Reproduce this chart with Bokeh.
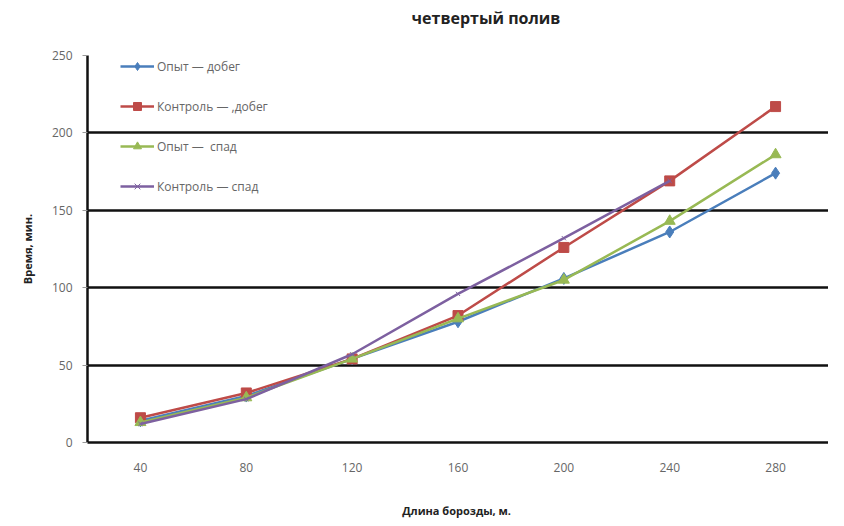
from bokeh.plotting import figure
from bokeh.models import Range1d, FixedTicker, Legend, LegendItem, Div
from bokeh.layouts import column
from bokeh.embed import file_html
from bokeh.resources import INLINE

lengths = ["40", "80", "120", "160", "200", "240", "280"]
opyt_dobeg = [14, 30, 54, 78, 106, 136, 174]
kontrol_dobeg = [16, 32, 54, 82, 126, 169, 217]
opyt_spad = [13, 29, 54, 80, 105, 143, 186]
kontrol_spad_x = ["40", "80", "120", "160", "200", "240"]
kontrol_spad = [12, 28, 57, 96, 132, 169]
y_ticks = [0, 50, 100, 150, 200, 250]
title_text = "четвертый полив"

FONT = "Open Sans"

title = Div(text=title_text, width=828, height=26,
            styles={"font-family": FONT, "font-size": "16px", "font-weight": "bold",
                    "color": "#222222", "text-align": "center", "line-height": "26px",
                    "padding-left": "134px", "box-sizing": "border-box"})

p = figure(width=828, height=484, x_range=lengths, y_range=Range1d(0, 250),
           output_backend="svg", toolbar_location=None,
           min_border_left=87, min_border_right=0, min_border_top=19, min_border_bottom=68)
p.outline_line_color = None

p.xgrid.grid_line_color = None
p.ygrid.grid_line_color = "#111111"
p.ygrid.grid_line_width = 2.5
p.yaxis.ticker = FixedTicker(ticks=y_ticks)

for ax in (p.xaxis, p.yaxis):
    ax.axis_line_color = "#111111"
    ax.axis_line_width = 2.5
    ax.major_label_text_font = FONT
    ax.major_label_text_font_size = "12px"
    ax.major_label_text_color = "#666666"
    ax.minor_tick_line_color = None
    ax.axis_label_text_font = FONT
    ax.axis_label_text_font_size = "11px"
    ax.axis_label_text_font_style = "bold"
    ax.axis_label_text_color = "#222222"

p.xaxis.major_tick_line_color = None
p.xaxis.major_label_standoff = 14
p.xaxis.axis_label = "Длина борозды,  м."
p.xaxis.axis_label_standoff = 28
p.yaxis.major_tick_line_color = "#999999"
p.yaxis.major_tick_in = 0
p.yaxis.major_tick_out = 5
p.yaxis.major_label_standoff = 10
p.yaxis.axis_label = "Время, мин."
p.yaxis.axis_label_standoff = 14

series = [
    ("Опыт — добег", lengths, opyt_dobeg, "#4a7ebb", "diamond", 12),
    ("Контроль — ,добег", lengths, kontrol_dobeg, "#be4b48", "square", 10),
    ("Опыт —  спад", lengths, opyt_spad, "#98b954", "triangle", 11),
    ("Контроль — спад", kontrol_spad_x, kontrol_spad, "#7d60a0", "x", 6),
]

items = []
for label, xs, ys, color, marker, size in series:
    r1 = p.line(xs, ys, line_color=color, line_width=2.5)
    r2 = p.scatter(xs, ys, marker=marker, size=size, fill_color=color, line_color=color)
    items.append(LegendItem(label=label, renderers=[r1, r2]))

legend = Legend(items=items, location=(33, 246), background_fill_alpha=0,
                border_line_color=None, glyph_width=34, glyph_height=20,
                label_height=20, spacing=20, padding=4, margin=0,
                label_text_font=FONT, label_text_font_size="12px",
                label_text_color="#666666", label_standoff=3)
p.add_layout(legend)

layout = column(title, p, spacing=0)
open("out.html", "w").write(file_html(layout, INLINE))
